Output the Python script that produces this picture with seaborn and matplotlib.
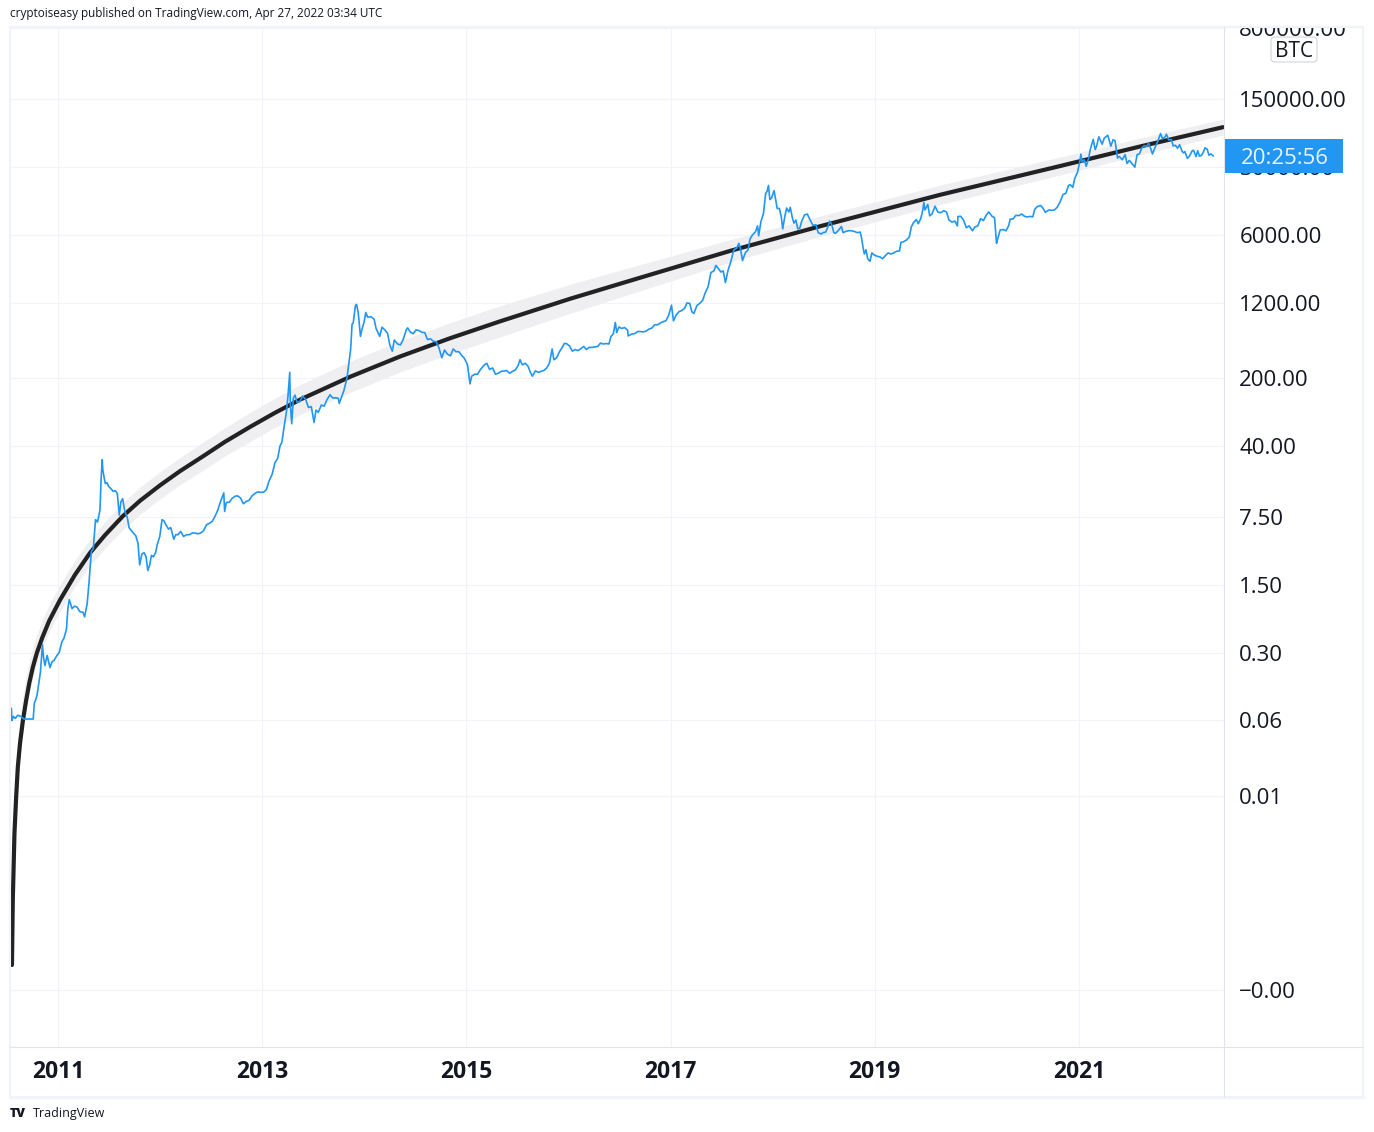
import matplotlib
matplotlib.use("Agg")
import matplotlib.pyplot as plt
from matplotlib import transforms
from matplotlib.lines import Line2D
from matplotlib.patches import Rectangle, FancyBboxPatch
from matplotlib.ticker import NullLocator
import pandas as pd
import seaborn as sns

# BTC closes, year by year
d2010 = ["07-18", "07-20", "07-25", "08-01", "08-10", "08-20", "09-01", "09-15", "09-28", "10-04", "10-08", "10-14",
         "10-18", "10-25", "10-30", "11-06", "11-10", "11-15", "11-23", "12-03", "12-10", "12-18", "12-28"]
p2010 = [0.080, 0.060, 0.066, 0.063, 0.068, 0.066, 0.062, 0.062, 0.062, 0.062, 0.090, 0.100,
         0.110, 0.150, 0.190, 0.360, 0.270, 0.220, 0.280, 0.210, 0.240, 0.250, 0.280]

d2011 = ["01-05", "01-15", "01-22", "01-31", "02-05", "02-10", "02-15", "02-20", "03-01", "03-10", "03-20", "03-31",
         "04-06", "04-15", "04-22", "04-30", "05-07", "05-15", "05-22", "05-31", "06-04", "06-08", "06-10", "06-14",
         "06-19", "06-25", "07-01", "07-10", "07-17", "07-25", "08-01", "08-08", "08-14", "08-20", "08-28", "09-06",
         "09-12", "09-20", "09-30", "10-06", "10-14", "10-20", "10-28", "11-05", "11-12", "11-18", "11-25", "12-01",
         "12-08", "12-16", "12-22", "12-31"]
p2011 = [0.30, 0.39, 0.42, 0.52, 0.85, 1.05, 0.95, 0.85, 0.90, 0.88, 0.79, 0.78,
         0.70, 0.95, 1.6, 3.3, 3.5, 7.0, 6.6, 8.8, 18.5, 29.0, 23.0, 19.5,
         16.5, 16.8, 15.4, 14.5, 13.7, 13.9, 13.0, 7.8, 10.7, 11.5, 8.5, 7.3,
         5.8, 5.4, 5.0, 4.8, 4.0, 2.4, 3.1, 3.2, 2.9, 2.1, 2.4, 3.0,
         2.9, 3.2, 3.9, 4.7]

d2012 = ["01-08", "01-15", "01-22", "01-31", "02-08", "02-19", "02-26", "03-05", "03-15", "03-25", "04-05", "04-15",
         "04-25", "05-05", "05-15", "05-25", "06-05", "06-15", "06-25", "07-05", "07-15", "07-25", "08-05", "08-16",
         "08-19", "08-25", "09-05", "09-15", "09-25", "10-05", "10-15", "10-25", "11-05", "11-15", "11-25", "12-05",
         "12-15", "12-25"]
p2012 = [7.0, 6.8, 6.2, 5.6, 5.8, 4.4, 4.9, 4.9, 5.3, 4.7, 4.9, 4.9,
         5.1, 5.1, 5.0, 5.1, 5.4, 6.2, 6.4, 6.7, 7.5, 8.7, 10.9, 13.2,
         8.5, 10.5, 10.6, 11.6, 12.2, 12.3, 11.7, 10.2, 10.8, 11.1, 12.3, 13.0,
         13.5, 13.4]

d2013 = ["01-05", "01-15", "01-25", "02-05", "02-15", "02-25", "03-05", "03-12", "03-20", "03-28", "04-03", "04-09",
         "04-11", "04-16", "04-22", "04-28", "05-05", "05-15", "05-25", "06-05", "06-15", "06-25", "07-05", "07-12",
         "07-20", "07-31", "08-10", "08-20", "08-31", "09-10", "09-20", "09-30", "10-03", "10-10", "10-20", "10-31",
         "11-07", "11-13", "11-18", "11-22", "11-30", "12-04", "12-10", "12-18", "12-23", "12-31"]
p2013 = [13.4, 14.2, 17.5, 20.5, 27, 30, 40, 44, 64, 89, 135, 230,
         110, 68, 125, 134, 113, 115, 131, 121, 100, 102, 70, 94,
         89, 106, 103, 120, 135, 125, 126, 124, 110, 125, 150, 203,
         293, 400, 720, 740, 1120, 1150, 950, 540, 630, 755]

d2014 = ["01-06", "01-13", "01-24", "02-05", "02-12", "02-25", "03-05", "03-15", "03-25", "04-02", "04-11", "04-18",
         "04-30", "05-10", "05-20", "05-31", "06-05", "06-15", "06-25", "07-05", "07-15", "07-25", "08-05", "08-15",
         "08-25", "09-05", "09-15", "09-25", "10-05", "10-15", "10-25", "11-05", "11-15", "11-25", "12-05", "12-15",
         "12-25"]
p2014 = [950, 850, 860, 810, 650, 540, 670, 630, 580, 440, 380, 495,
         450, 440, 500, 630, 660, 595, 575, 630, 620, 595, 590, 500,
         510, 480, 475, 410, 325, 390, 355, 340, 400, 375, 375, 345,
         320]

d2015 = ["01-05", "01-14", "01-20", "01-31", "02-10", "02-20", "03-05", "03-15", "03-25", "04-05", "04-15", "04-25",
         "05-05", "05-15", "05-25", "06-05", "06-15", "06-25", "07-05", "07-12", "07-20", "07-31", "08-10", "08-18",
         "08-25", "09-05", "09-15", "09-25", "10-05", "10-15", "10-25", "11-04", "11-10", "11-20", "11-30", "12-10",
         "12-17", "12-25"]
p2015 = [275, 175, 210, 220, 220, 245, 272, 285, 247, 255, 220, 225,
         235, 237, 240, 225, 235, 243, 270, 310, 275, 285, 265, 230,
         210, 238, 230, 235, 240, 254, 285, 400, 310, 325, 375, 415,
         455, 455]

d2016 = ["01-05", "01-15", "01-25", "02-05", "02-15", "02-25", "03-05", "03-15", "03-25", "04-05", "04-15", "04-25",
         "05-05", "05-15", "05-25", "06-01", "06-10", "06-17", "06-22", "06-30", "07-10", "07-20", "07-31", "08-02",
         "08-15", "08-25", "09-05", "09-15", "09-25", "10-05", "10-15", "10-25", "11-05", "11-15", "11-25", "12-05",
         "12-15", "12-25"]
p2016 = [430, 380, 395, 385, 405, 425, 395, 415, 415, 420, 425, 460,
         450, 455, 450, 535, 575, 750, 590, 675, 650, 665, 625, 545,
         570, 575, 605, 605, 600, 610, 640, 655, 710, 710, 740, 765,
         780, 890]

d2017 = ["01-04", "01-11", "01-20", "01-31", "02-10", "02-20", "02-28", "03-10", "03-18", "03-25", "04-05", "04-15",
         "04-25", "05-05", "05-15", "05-25", "06-05", "06-12", "06-20", "06-30", "07-08", "07-16", "07-25", "08-05",
         "08-15", "08-25", "09-02", "09-08", "09-15", "09-25", "10-05", "10-12", "10-20", "10-31", "11-08", "11-12",
         "11-20", "11-29", "12-07", "12-12", "12-17", "12-22", "12-28"]
p2017 = [1130, 780, 890, 970, 995, 1050, 1190, 1180, 965, 930, 1120, 1180,
         1260, 1520, 1750, 2450, 2550, 2900, 2700, 2480, 2550, 1930, 2560, 3220,
         4200, 4350, 4900, 4300, 3250, 3900, 4200, 5400, 5950, 6400, 7400, 5850,
         8200, 9900, 16000, 16800, 19300, 13800, 14300]

d2018 = ["01-06", "01-12", "01-17", "01-25", "02-01", "02-06", "02-14", "02-20", "02-28", "03-05", "03-12", "03-18",
         "03-25", "04-01", "04-08", "04-15", "04-25", "05-05", "05-15", "05-25", "06-05", "06-13", "06-24", "06-30",
         "07-10", "07-18", "07-24", "07-31", "08-08", "08-14", "08-25", "09-04", "09-10", "09-20", "09-30", "10-10",
         "10-20", "10-31", "11-10", "11-15", "11-20", "11-25", "12-01", "12-07", "12-15", "12-22", "12-31"]
p2018 = [17100, 13700, 11200, 11200, 9100, 6900, 9400, 11300, 10300, 11500, 9100, 7900,
         8500, 6900, 7000, 8300, 9600, 9800, 8500, 7500, 7600, 6300, 6100, 6300,
         6400, 7300, 8300, 7700, 6300, 6200, 6700, 7300, 6300, 6500, 6600, 6600,
         6500, 6300, 6400, 5600, 4500, 3800, 4200, 3400, 3200, 3900, 3700]

d2019 = ["01-10", "01-20", "01-29", "02-08", "02-18", "02-28", "03-10", "03-20", "03-31", "04-05", "04-15", "04-25",
         "05-05", "05-12", "05-20", "05-30", "06-06", "06-15", "06-22", "06-26", "06-30", "07-10", "07-17", "07-25",
         "08-05", "08-15", "08-25", "09-05", "09-15", "09-24", "10-05", "10-15", "10-24", "10-26", "11-05", "11-15",
         "11-25", "12-05", "12-17", "12-25"]
p2019 = [3600, 3550, 3400, 3650, 3900, 3800, 3900, 4050, 4100, 5000, 5100, 5300,
         5700, 7200, 8000, 8600, 7800, 8800, 10700, 12900, 10800, 12300, 9400, 9800,
         11800, 10300, 10100, 10600, 10300, 8500, 8100, 8300, 7400, 9250, 9300, 8500,
         7100, 7400, 6600, 7200]

d2020 = ["01-05", "01-15", "01-25", "02-05", "02-13", "02-25", "03-05", "03-12", "03-15", "03-25", "04-05", "04-15",
         "04-25", "04-30", "05-10", "05-20", "05-31", "06-10", "06-20", "06-30", "07-10", "07-20", "07-27", "08-05",
         "08-17", "08-25", "09-03", "09-15", "09-25", "10-05", "10-15", "10-25", "11-05", "11-15", "11-24", "11-30",
         "12-10", "12-17", "12-27"]
p2020 = [7400, 8800, 8400, 9600, 10300, 9300, 9000, 4900, 5300, 6700, 6800, 6600,
         7500, 8700, 8700, 9500, 9450, 9800, 9300, 9150, 9250, 9200, 11000, 11700,
         12000, 11300, 10200, 10800, 10700, 10800, 11500, 13000, 15600, 16000, 19100, 19700,
         18500, 22800, 26500]

d2021 = ["01-03", "01-08", "01-12", "01-20", "01-27", "02-05", "02-10", "02-21", "02-28", "03-05", "03-13", "03-25",
         "04-01", "04-14", "04-25", "05-03", "05-10", "05-19", "05-25", "06-05", "06-15", "06-22", "06-30", "07-08",
         "07-20", "07-28", "08-05", "08-14", "08-23", "09-01", "09-07", "09-14", "09-21", "10-01", "10-10", "10-20",
         "10-27", "11-05", "11-10", "11-18", "11-28", "12-04", "12-12", "12-20", "12-27"]
p2021 = [32800, 40500, 33700, 35500, 30400, 37000, 44800, 57500, 45200, 48800, 61200, 51300,
         59000, 63500, 49000, 57000, 55800, 37000, 38500, 35500, 40100, 32500, 35000, 32900,
         29800, 40000, 40800, 47000, 49500, 48800, 52700, 47000, 40700, 48100, 54900, 66000,
         58400, 61000, 65000, 56900, 57200, 49300, 50000, 46700, 50700]

d2022 = ["01-05", "01-10", "01-15", "01-24", "01-31", "02-10", "02-15", "02-24", "03-02", "03-08", "03-15", "03-22",
         "03-28", "04-05", "04-11", "04-18", "04-24", "04-27"]
p2022 = [43400, 41800, 43100, 36700, 38500, 43800, 44500, 38300, 43900, 38700, 39300, 42400,
         47100, 45500, 39500, 40800, 39500, 38800]

# power-law regression line and its channel (upper / lower width in decades)
reg_dates = ["2010-07-20", "2010-07-23", "2010-07-29", "2010-08-04", "2010-08-10", "2010-08-18", "2010-08-28",
             "2010-09-09", "2010-09-20", "2010-10-03", "2010-10-17", "2010-11-05", "2010-11-30", "2011-01-08",
             "2011-03-02", "2011-04-25", "2011-06-18", "2011-08-21", "2011-10-21", "2012-01-01", "2012-03-12",
             "2012-06-03", "2012-08-20", "2012-11-18", "2013-02-15", "2013-05-16", "2013-11-11", "2014-05-09",
             "2014-11-04", "2015-05-02", "2016-01-07", "2016-09-14", "2017-08-02", "2018-06-20", "2019-08-24",
             "2020-10-26", "2021-08-08", "2022-06-01"]
reg_prices = [1.82e-4, 8.49e-4, 4.16e-3, 9.77e-3, 0.0199, 0.0352, 0.0592,
              0.0973, 0.1456, 0.213, 0.2965, 0.4236, 0.634, 1.042,
              1.884, 3.177, 4.853, 7.62, 10.94, 15.81, 22.08,
              31.48, 44.26, 63.1, 88.1, 120.5, 207.0, 335.0,
              516.6, 771, 1315, 2168, 4093, 7345, 15490,
              30620, 48640, 76900]
band_up = [0.30, 0.30, 0.30, 0.30, 0.30, 0.28, 0.26,
           0.24, 0.22, 0.20, 0.19, 0.18, 0.17, 0.16,
           0.15, 0.14, 0.14, 0.14, 0.14, 0.14, 0.14,
           0.145, 0.145, 0.15, 0.15, 0.155, 0.16, 0.16,
           0.16, 0.16, 0.15, 0.135, 0.115, 0.105, 0.10,
           0.092, 0.087, 0.082]
band_dn = [0.05, 0.05, 0.05, 0.05, 0.06, 0.06, 0.07,
           0.08, 0.09, 0.10, 0.10, 0.11, 0.11, 0.12,
           0.12, 0.13, 0.135, 0.14, 0.14, 0.14, 0.14,
           0.145, 0.145, 0.15, 0.15, 0.155, 0.16, 0.16,
           0.16, 0.16, 0.15, 0.135, 0.115, 0.105, 0.10,
           0.092, 0.087, 0.082]

year_ticks = [2011, 2013, 2015, 2017, 2019, 2021]
price_ticks = [800000, 150000, 30000, 6000, 1200, 200, 40, 7.5, 1.5, 0.3, 0.06, 0.01, 0.0001]
price_labels = ["800000.00", "150000.00", "30000.00", "6000.00", "1200.00", "200.00", "40.00", "7.50",
                "1.50", "0.30", "0.06", "0.01", "\u22120.00"]

years = [(2010, d2010, p2010), (2011, d2011, p2011), (2012, d2012, p2012), (2013, d2013, p2013),
         (2014, d2014, p2014), (2015, d2015, p2015), (2016, d2016, p2016), (2017, d2017, p2017),
         (2018, d2018, p2018), (2019, d2019, p2019), (2020, d2020, p2020), (2021, d2021, p2021),
         (2022, d2022, p2022)]
dates, prices = [], []
for yr, d, p in years:
    assert len(d) == len(p), yr
    dates += [pd.Timestamp(f"{yr}-{s}") for s in d]
    prices += p
btc = pd.DataFrame({"date": dates, "price": prices})
reg = pd.DataFrame({"date": pd.to_datetime(reg_dates), "price": reg_prices, "up": band_up, "dn": band_dn})

sns.set_style("white")
plt.rcParams["font.family"] = ["Open Sans", "DejaVu Sans"]

TXT = "#131722"
GRID = "#f0f3fa"
SEP = "#e0e3eb"
W, H = 1374, 1132


def fx(x):
    return x / W


def fy(y):
    return 1 - y / H


def axx(x):
    return (x - 10) / (1224 - 10)


fig = plt.figure(figsize=(W / 100, H / 100), dpi=100, facecolor="white")
ax = fig.add_axes([fx(10), fy(1047), fx(1224) - fx(10), fy(27) - fy(1047)])

ax.fill_between(reg["date"], reg["price"] / 10 ** reg["dn"], reg["price"] * 10 ** reg["up"],
                color="#efeff2", lw=0, zorder=1)
sns.lineplot(data=reg, x="date", y="price", ax=ax, color="#222222", linewidth=3.0, zorder=3)
sns.lineplot(data=btc, x="date", y="price", ax=ax, color="#2196f3", linewidth=1.2, zorder=4)

ax.set_yscale("log")
ax.set_ylim(10 ** -4.584, 10 ** 5.917)
ax.set_xlim(pd.Timestamp("2010-07-13"), pd.Timestamp("2022-06-04"))
ax.yaxis.set_minor_locator(NullLocator())
ax.set_yticks(price_ticks)
ax.set_yticklabels(price_labels)
ax.yaxis.tick_right()
ax.set_xticks([pd.Timestamp(f"{y}-01-01") for y in year_ticks])
ax.set_xticklabels([str(y) for y in year_ticks], fontweight="bold")
ax.tick_params(axis="y", length=0, pad=11, labelsize=16, labelcolor=TXT)
ax.tick_params(axis="x", length=0, pad=9, labelsize=16.5, labelcolor=TXT)
ax.set_xlabel("")
ax.set_ylabel("")
ax.grid(True, color=GRID, linewidth=0.8)
for s in ax.spines.values():
    s.set_visible(False)

# current price tag
blend = transforms.blended_transform_factory(ax.transAxes, ax.transData)
last = prices[-1]
lo, hi = last / 10 ** 0.175, last * 10 ** 0.175
ax.add_patch(Rectangle((1.0, lo), axx(1343) - 1.0, hi - lo, transform=blend, fc="#2196f3", ec="none",
                       clip_on=False, zorder=10))
ax.text(axx(1285), last, "20:25:56", transform=blend, ha="center", va="center_baseline",
        color="#e8f4fe", fontsize=16, zorder=11, clip_on=False)

# hide the top of the clipped 800000 label
fig.add_artist(Rectangle((fx(1225), fy(26.5)), fx(1362) - fx(1225), 26.5 / H, transform=fig.transFigure,
                         fc="white", ec="none", zorder=5))


# frame and separators
def fline(xs, ys, color, lw):
    fig.add_artist(Line2D([fx(v) for v in xs], [fy(v) for v in ys], color=color, lw=lw,
                          transform=fig.transFigure, zorder=6))


fline([10, 1363], [27, 27], GRID, 1.5)
fline([10, 10], [27, 1097], GRID, 1.5)
fline([1363, 1363], [27, 1097], GRID, 1.5)
fline([10, 1363], [1097, 1097], GRID, 2.2)
fline([1224, 1224], [27, 1097], SEP, 0.8)
fline([10, 1363], [1047, 1047], SEP, 0.8)

# BTC symbol tag
fig.add_artist(FancyBboxPatch((fx(1271), fy(62)), fx(1317) - fx(1271), 25 / H,
                              boxstyle="round,pad=0,rounding_size=0.003", transform=fig.transFigure,
                              fc="white", ec="#d1d4dc", lw=0.8, zorder=7))
fig.text(fx(1294), fy(49), "BTC", ha="center", va="center_baseline", fontsize=15, color=TXT, zorder=8)

fig.text(fx(10), fy(14), "cryptoiseasy published on TradingView.com, Apr 27, 2022 03:34 UTC",
         fontsize=8.5, va="center", color=TXT)
fig.text(fx(10), fy(1114), "TV", fontsize=9, fontweight="heavy", va="center", color=TXT)
fig.text(fx(33), fy(1114), "TradingView", fontsize=9, va="center", color=TXT)

fig.savefig("out.png", dpi=100, facecolor="white")
